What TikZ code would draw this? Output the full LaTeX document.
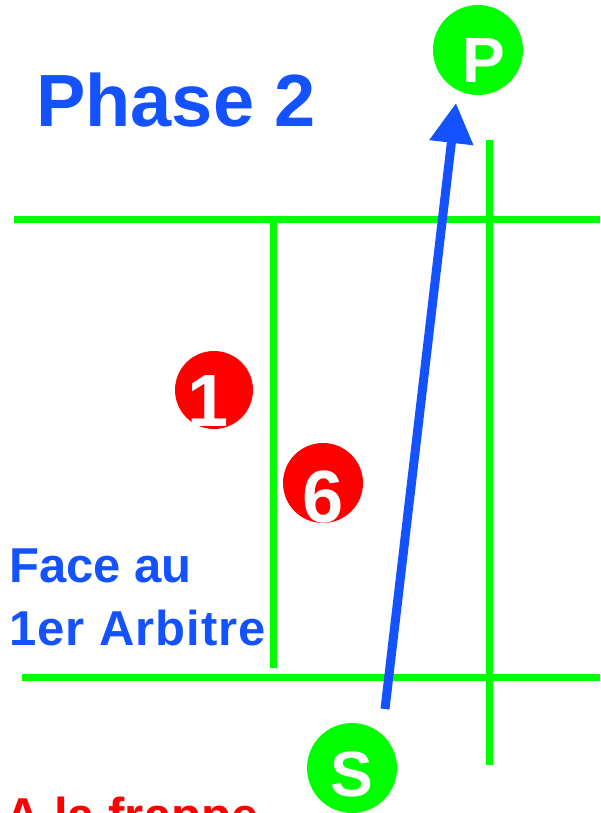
\documentclass[tikz,border=0pt]{standalone}
\usepackage{fontspec}
\setmainfont{Liberation Sans}
\usetikzlibrary{arrows.meta}
\definecolor{fieldgreen}{RGB}{0,255,0}
\definecolor{callblue}{RGB}{20,82,255}
\definecolor{playerred}{RGB}{255,0,0}

\begin{document}
\begin{tikzpicture}[x=1pt, y=-1pt,
  fieldline/.style={fieldgreen, line width=6.5pt},
  player/.style={circle, fill=#1, minimum size=90pt, inner sep=0pt},
  tag/.style={text=white, inner sep=0pt, font=\bfseries\fontsize{#1}{#1}\selectfont},
  caption/.style={anchor=base west, inner sep=0pt, text=#1, font=\bfseries\fontsize{49}{49}\selectfont},
  serve/.style={callblue, line width=9pt, -{Triangle[length=40pt, width=42pt]}}]
\clip (0,0) rectangle (600,813);

% field lines
\draw[fieldline](14,219.5)--(600,219.5);
\draw[fieldline](22,677.5)--(600,677.5);
\draw[fieldline](273.5,222)--(273.5,668);
\draw[fieldline](489.5,140)--(489.5,765);

% texts
\node[caption=callblue, font=\bfseries\fontsize{74}{74}\selectfont] (title) at (36,127) {Phase 2};
\node[caption=callblue] (face) at (9,582) {Face au};
\node[caption=callblue, font=\bfseries\fontsize{49}{49}\selectfont\addfontfeature{LetterSpace=2}] (arbitre) at (9,645) {1er Arbitre};
\node[caption=playerred] (frappe) at (5,832) {A la frappe};

% players
\node[player=fieldgreen] (P) at (478,50) {};
\node[tag=64] (P tag) at (484,60.5) {P};
\node[player=fieldgreen] (S) at (352,768) {};
\node[tag=64] (S tag) at (352,774) {S};
\node[player=playerred, minimum size=78pt] (one) at (214,390) {};
\node[tag=74] (one tag) at (208,401) {1};
\node[player=playerred, minimum size=80pt] (six) at (323,483) {};
\node[tag=74] (six tag) at (323,497) {6};

% serve
\coordinate (serve start) at (385,709);
\coordinate (serve end) at (456,103);
\draw[serve](serve start)--(serve end);

\end{tikzpicture}
\end{document}
